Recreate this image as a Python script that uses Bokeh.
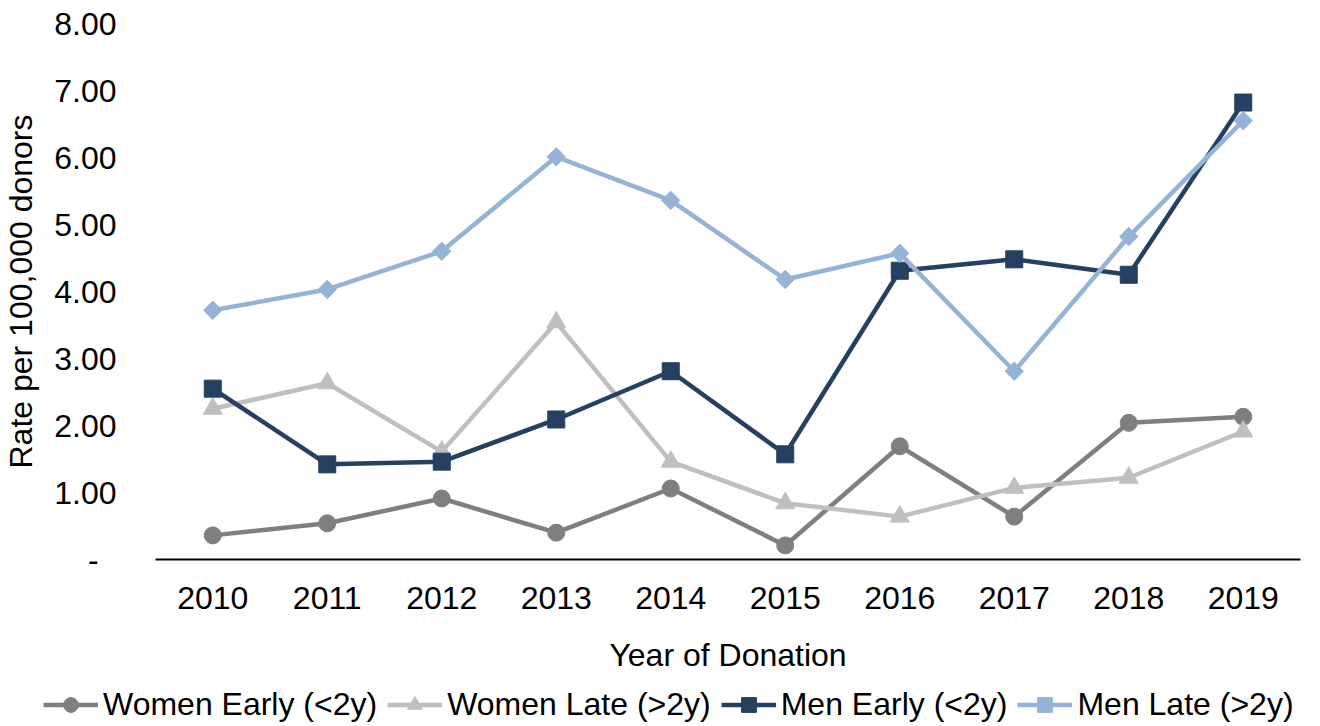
import math
from bokeh.plotting import figure
from bokeh.models import Legend, LegendItem, FactorRange, FixedTicker, CustomJSTickFormatter, Range1d
from bokeh.embed import file_html
from bokeh.resources import INLINE

years = ["2010", "2011", "2012", "2013", "2014", "2015", "2016", "2017", "2018", "2019"]
women_early = [0.36, 0.54, 0.91, 0.40, 1.06, 0.21, 1.69, 0.64, 2.04, 2.13]
women_late = [2.25, 2.63, 1.61, 3.54, 1.46, 0.84, 0.64, 1.07, 1.22, 1.91]
men_early = [2.55, 1.42, 1.46, 2.09, 2.81, 1.57, 4.31, 4.48, 4.25, 6.82]
men_late = [3.72, 4.03, 4.60, 6.01, 5.36, 4.18, 4.57, 2.81, 4.82, 6.55]
y_ticks = [0, 1, 2, 3, 4, 5, 6, 7, 8]

FONT = "Liberation Sans"
FS = "32px"

p = figure(x_range=FactorRange(*years, range_padding=0), y_range=(0, 8),
           frame_width=1145, frame_height=536, title=None,
           output_backend="svg", toolbar_location=None,
           min_border_left=155, min_border_right=20, min_border_top=23, min_border_bottom=124)
p.outline_line_color = None
p.xgrid.visible = False
p.ygrid.visible = False
p.background_fill_color = "white"
p.border_fill_color = "white"

# legend strip below the chart (separate root, its renderers lie outside its range)
p2 = figure(x_range=FactorRange(*years, range_padding=0), y_range=Range1d(-30, -29),
            width=1320, height=43, title=None,
            output_backend="svg", toolbar_location=None, x_axis_type=None, y_axis_type=None,
            min_border_left=0, min_border_right=0, min_border_top=0, min_border_bottom=0)
p2.outline_line_color = None
p2.background_fill_color = "white"
p2.border_fill_color = "white"

series = [
    ("Women Early (<2y)", women_early, "#7F7F7F", "circle", 0, 17),
    ("Women Late (>2y)", women_late, "#BFBFBF", "triangle", 0, 19),
    ("Men Early (<2y)", men_early, "#254061", "square", 0, 17),
    ("Men Late (>2y)", men_late, "#95B3D7", "square", math.pi / 4, 13),
]
items = []
for name, vals, col, mk, ang, sz in series:
    p.line(years, vals, line_color=col, line_width=4.5)
    p.scatter(years, vals, marker=mk, size=sz, angle=ang, fill_color=col, line_color=col)
    l2 = p2.line(years, vals, line_color=col, line_width=4.5)
    s2 = p2.scatter(years, vals, marker=mk, size=sz, angle=ang, fill_color=col, line_color=col)
    items.append(LegendItem(label=name, renderers=[l2, s2]))

# y axis
p.yaxis.ticker = FixedTicker(ticks=y_ticks)
p.yaxis.formatter = CustomJSTickFormatter(code="""
return tick == 0 ? "-\u00a0\u00a0" : tick.toFixed(2);
""")
p.yaxis.axis_line_color = None
p.yaxis.major_tick_line_color = None
p.yaxis.minor_tick_line_color = None
p.yaxis.major_tick_out = 0
p.yaxis.major_tick_in = 0
p.yaxis.major_label_standoff = 39
p.yaxis.major_label_text_font = FONT
p.yaxis.major_label_text_font_size = FS
p.yaxis.major_label_text_color = "black"
p.yaxis.axis_label = "Rate per 100,000 donors"
p.yaxis.axis_label_text_font = FONT
p.yaxis.axis_label_text_font_size = FS
p.yaxis.axis_label_text_font_style = "normal"
p.yaxis.axis_label_text_color = "black"
p.yaxis.axis_label_standoff = 12

# x axis
p.xaxis.axis_line_color = "black"
p.xaxis.axis_line_width = 2
p.xaxis.major_tick_line_color = None
p.xaxis.minor_tick_line_color = None
p.xaxis.major_tick_out = 0
p.xaxis.major_tick_in = 0
p.xaxis.major_label_standoff = 27
p.xaxis.major_label_text_font = FONT
p.xaxis.major_label_text_font_size = FS
p.xaxis.major_label_text_color = "black"
p.xaxis.axis_label = "Year of Donation"
p.xaxis.axis_label_text_font = FONT
p.xaxis.axis_label_text_font_size = FS
p.xaxis.axis_label_text_font_style = "normal"
p.xaxis.axis_label_text_color = "black"
p.xaxis.axis_label_standoff = 25

legend = Legend(items=items, orientation="horizontal", location=(43, 3),
                label_text_font=FONT, label_text_font_size=FS, label_text_color="black",
                glyph_width=55, glyph_height=37, label_standoff=5, spacing=10,
                padding=0, margin=0, border_line_color=None, background_fill_alpha=0)
p2.add_layout(legend, "center")

open("out.html", "w").write(file_html([p, p2], INLINE))
